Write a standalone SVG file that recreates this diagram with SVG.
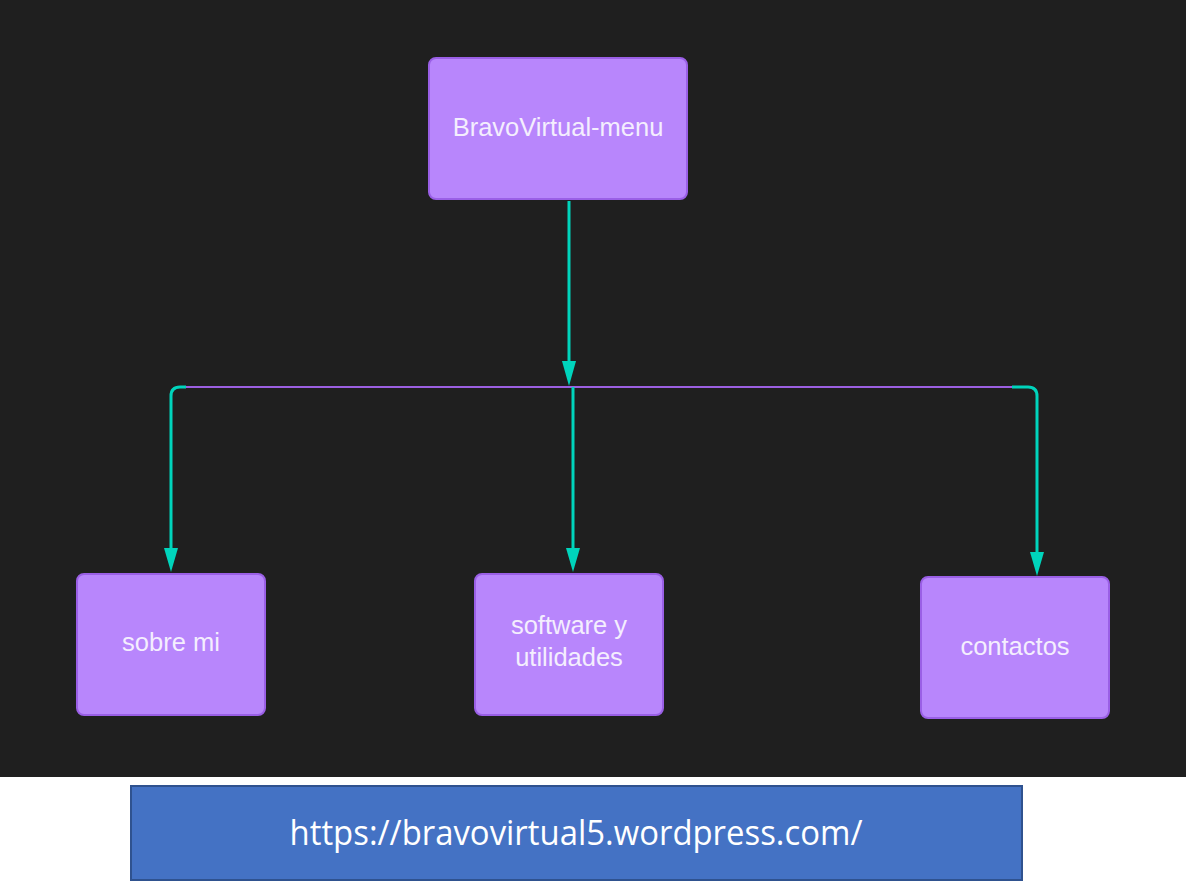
<svg xmlns="http://www.w3.org/2000/svg" width="1186" height="881" viewBox="0 0 1186 881">
<style>
.node rect{fill:#b886fc;stroke:#9a5fe6;stroke-width:2}
.node text{font-family:'Liberation Sans',Arial,Helvetica,sans-serif;font-size:25.5px;fill:#f4eefe;text-anchor:middle}
.tl{fill:none;stroke:#00d4bc;stroke-width:3}
.pl{fill:none;stroke:#9b5fe0;stroke-width:2}
.ah{fill:#00d4bc}
</style>
<rect x="0" y="0" width="1186" height="777" fill="#1f1f1f"/>
<rect x="0" y="777" width="1186" height="104" fill="#ffffff"/>
<g id="connectors">
<line class="pl" x1="183" y1="387" x2="1014" y2="387"/>
<path class="tl" d="M569,201 V362"/>
<path class="ah" d="M562,361 L576,361 L569,386 Z"/>
<path class="tl" d="M186,387 H180 Q171,387 171,396 V548"/>
<path class="ah" d="M164,548 L178,548 L171,572 Z"/>
<path class="tl" d="M573,387 V548"/>
<path class="ah" d="M566,548 L580,548 L573,572 Z"/>
<path class="tl" d="M1012,387 H1028 Q1037,387 1037,396 V552"/>
<path class="ah" d="M1030,552 L1044,552 L1037,576 Z"/>
</g>
<g id="node-menu" class="node">
<rect x="429" y="58" width="258" height="141" rx="7"/>
<text x="558" y="136">BravoVirtual-menu</text>
</g>
<g id="node-sobre" class="node">
<rect x="77" y="574" width="188" height="141" rx="7"/>
<text x="171" y="651">sobre mi</text>
</g>
<g id="node-software" class="node">
<rect x="475" y="574" width="188" height="141" rx="7"/>
<text x="569" y="634">software y</text>
<text x="569" y="666">utilidades</text>
</g>
<g id="node-contactos" class="node">
<rect x="921" y="577" width="188" height="141" rx="7"/>
<text x="1015" y="655">contactos</text>
</g>
<g id="url">
<rect x="131" y="786" width="891" height="94" fill="#4472c4" stroke="#2f528f" stroke-width="2"/>
<text x="576" y="845" font-family="'Open Sans','Noto Sans',sans-serif" font-size="34" fill="#ffffff" text-anchor="middle" textLength="573" lengthAdjust="spacingAndGlyphs">https://bravovirtual5.wordpress.com/</text>
</g>
</svg>
